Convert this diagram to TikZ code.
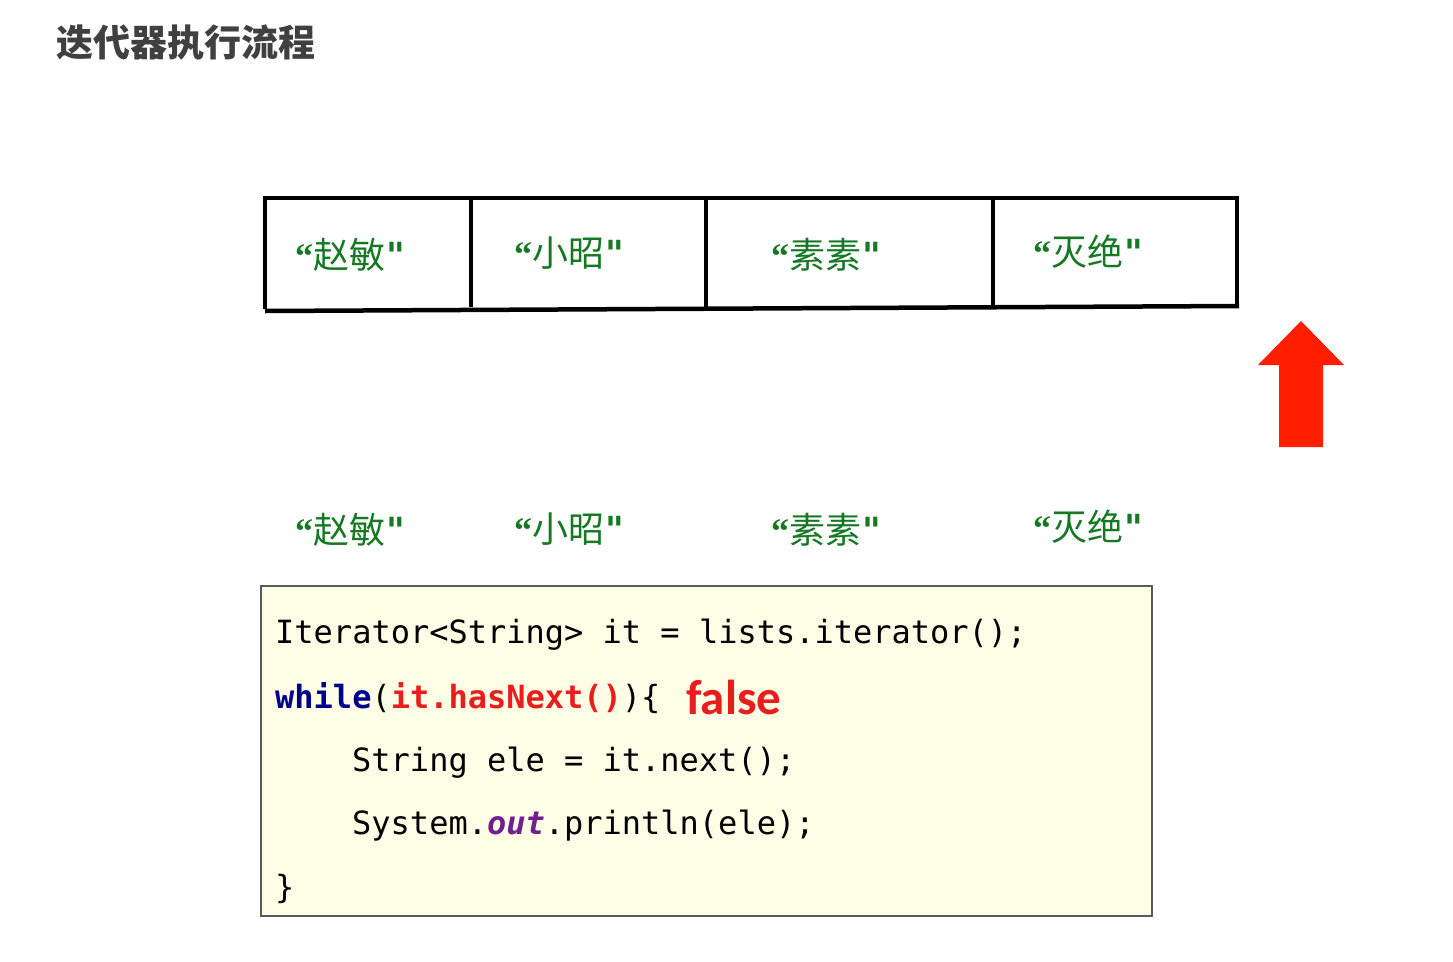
\documentclass[tikz,border=0pt]{standalone}
\usepackage{fontspec}
\usepackage{xcolor}
\newfontfamily\cjk{Noto Sans CJK SC}
\newfontfamily\qfont{Liberation Serif}
\newfontfamily\qqfont{DejaVu Sans}
\newfontfamily\codefont{DejaVu Sans Mono}
\newfontfamily\calfont{Carlito}
\definecolor{namegreen}{RGB}{22,120,34}
\definecolor{codebg}{RGB}{253,253,230}
\definecolor{kwblue}{RGB}{0,0,140}
\definecolor{hlred}{RGB}{232,30,30}
\definecolor{outpurple}{RGB}{112,32,142}
\definecolor{arrowred}{RGB}{255,30,0}
\definecolor{titlegrey}{RGB}{64,64,64}
\newcommand{\qname}[1]{{\qfont\bfseries “}#1{\qqfont\bfseries\kern1pt"}}

\begin{document}
\begin{tikzpicture}[x=1pt,y=-1pt,
  elem/.style={text=namegreen,inner sep=0,font=\cjk\fontsize{36}{36}\selectfont},
  code/.style={anchor=west,inner sep=0,font=\codefont\fontsize{32}{32}\selectfont},
  tbl/.style={line width=4.5pt}]
  \useasboundingbox (0,0) rectangle (1453,961);
  \node[anchor=west,inner sep=0,text=titlegrey,font=\cjk\bfseries\fontsize{37}{37}\selectfont] (t) at (56,43) {迭代器执行流程};

  % the list
  \draw[tbl] (265,309) -- (265,198) -- (1237,198) -- (1237,306);
  \draw[tbl] (265,311) -- (1239,306);
  \draw[tbl] (471,198) -- (471,307);
  \draw[tbl] (706,198) -- (706,307);
  \draw[tbl] (993,198) -- (993,306);
  \node[elem] (a) at (350,255) {\qname{赵敏}};
  \node[elem] (b) at (569,253) {\qname{小昭}};
  \node[elem] (c) at (826,255) {\qname{素素}};
  \node[elem] (d) at (1088,252) {\qname{灭绝}};

  \fill[arrowred] (1301,321) -- (1344,365) -- (1323,365) -- (1323,447)
    -- (1279,447) -- (1279,365) -- (1258,365) -- cycle;

  \node[elem] (a2) at (350,530) {\qname{赵敏}};
  \node[elem] (b2) at (569,529) {\qname{小昭}};
  \node[elem] (c2) at (826,530) {\qname{素素}};
  \node[elem] (d2) at (1088,527) {\qname{灭绝}};

  % code
  \draw[fill=codebg,draw=black!65,line width=1.5pt] (261,586) rectangle (1152,916);
  \node[code] (l1) at (275,635) {Iterator<String> it = lists.iterator();};
  \node[code] (l2) at (275,698) {\textcolor{kwblue}{\bfseries while}(\textcolor{hlred}{\bfseries it.hasNext()})\{};
  \node[anchor=west,inner sep=0,text=hlred,font=\calfont\bfseries\fontsize{49}{49}\selectfont] (f) at (686,697) {false};
  \node[code] (l3) at (352,763) {String ele = it.next();};
  \node[code] (l4) at (352,826) {System.\textcolor{outpurple}{\bfseries\itshape out}.println(ele);};
  \node[code] (l5) at (275,889) {\}};
\end{tikzpicture}
\end{document}
